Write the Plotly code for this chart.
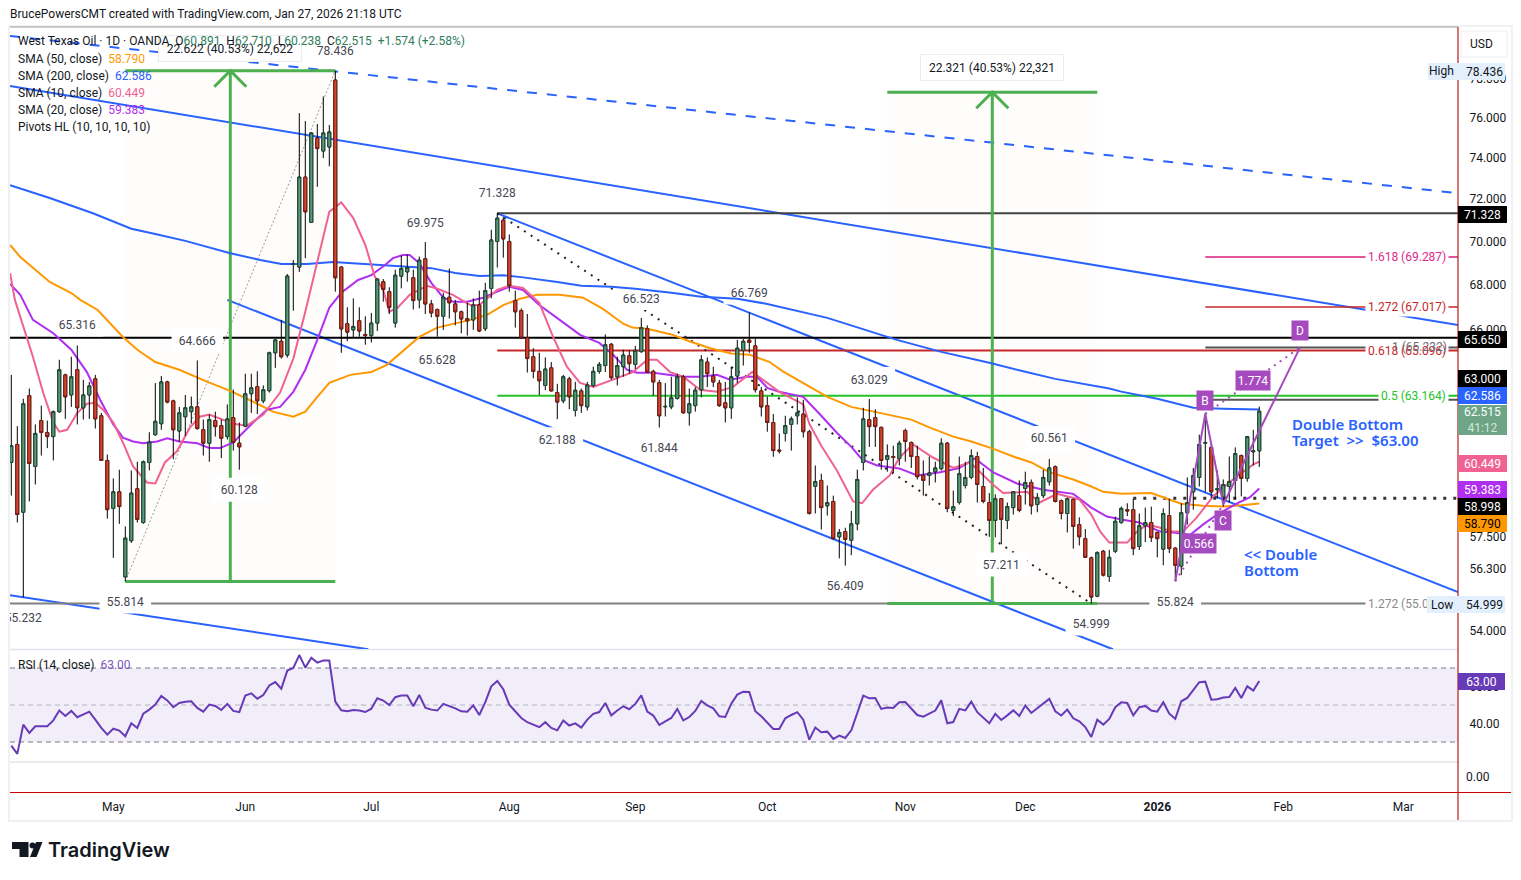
import math
import plotly.graph_objects as go

W, H = 1521, 880
FONT = "Roboto"
INK = "#131722"
BLUE = "#2962ff"
GREEN = "#4caf50"
ORANGE = "#ff9800"
PINK = "#f06292"
PURPLE = "#b02ef0"
PATTERN = "#a64bbf"

# Daily candles, oldest first
opens = [60.42,61.15,58.45,63.17,60.26,62.13,61.64,61.47,62.5,64.05,63.2,64.27,62.66,63.2,63.88,62.33,60.5,58.6,59.25,55.99,
57.35,59.37,58.05,60.42,61.55,62.0,63.75,62.95,61.7,62.29,62.5,62.7,61.75,61.2,62.13,61.92,61.47,62.25,61.2,61.9,
63.25,63.55,62.95,63.38,65.0,65.5,64.9,68.94,68.82,73.07,70.9,75.0,74.35,74.55,77.95,68.82,66.27,66.0,66.4,65.8,
65.75,66.3,68.15,67.7,66.3,68.4,68.6,68.33,67.33,69.2,67.15,66.9,66.6,67.45,67.15,66.8,66.5,66.44,67.1,66.05,
67.85,70.0,71.0,70.0,67.3,66.85,65.65,64.83,64.2,63.6,64.35,63.3,62.95,63.88,62.55,63.37,62.7,63.6,64.2,64.45,
65.37,63.97,64.4,64.87,64.5,65.05,66.05,64.2,63.72,62.7,62.7,63.05,63.97,62.45,62.75,63.42,64.6,64.0,63.7,62.87,
62.66,64.0,65.1,65.55,65.3,63.37,62.75,62.05,60.92,61.6,61.97,62.33,62.4,61.67,59.47,59.7,58.7,58.87,57.5,57.7,
57.37,58.0,60.42,62.17,62.25,61.85,60.54,60.66,60.58,61.72,61.23,60.66,59.9,59.9,60.05,60.17,61.2,58.52,58.83,59.5,
59.82,60.66,59.46,58.83,58.13,58.98,58.13,58.63,59.1,59.38,59.62,58.75,59.1,59.65,60.25,58.9,58.4,58.95,57.97,57.43,
56.7,55.27,56.95,56.0,56.95,58.05,58.55,58.55,57.13,57.93,58.05,57.67,57.03,58.32,57.07,56.39,58.43,59.25,59.82,61.2,
61.03,59.33,59.05,59.46,59.7,60.7,59.78,60.85,60.891]
highs = [64.05,61.9,63.04,63.47,61.97,62.75,62.13,62.55,64.7,64.1,64.83,65.316,63.84,63.75,64.05,62.45,60.74,59.78,60.13,57.9,
60.1,60.45,60.5,61.65,63.7,64.0,63.8,63.0,62.7,63.2,63.13,64.666,62.17,62.38,62.5,62.17,62.8,63.43,62.05,64.1,
64.1,64.2,63.6,65.05,65.6,66.44,68.5,69.14,76.25,75.85,75.3,75.7,77.1,75.65,78.436,68.85,67.0,67.4,67.0,66.6,
66.75,68.3,68.27,67.9,68.7,69.35,69.4,68.7,69.3,69.975,67.33,66.95,67.65,68.75,67.33,66.85,67.2,67.4,67.75,68.1,
70.55,71.328,71.15,70.33,67.75,66.95,66.7,65.2,65.0,64.8,64.6,63.67,64.05,63.97,63.75,63.47,63.75,64.4,64.6,65.8,
65.42,64.83,65.13,65.1,65.3,66.523,66.2,64.27,63.84,63.7,63.97,64.1,64.05,63.47,63.53,64.9,64.8,64.4,63.84,63.75,
64.4,65.56,65.6,66.769,65.6,63.53,63.13,62.4,61.6,62.33,62.3,63.1,63.0,61.75,60.3,59.97,59.5,59.1,57.8,57.85,
58.5,60.13,62.66,63.029,62.6,61.88,61.15,61.1,61.3,61.8,61.27,61.1,60.5,60.66,60.45,61.4,61.25,59.3,60.66,60.45,
60.95,60.85,60.2,59.2,59.15,59.0,58.83,59.28,59.7,60.05,59.74,59.2,60.13,60.561,60.3,58.95,59.03,58.98,58.25,57.8,
56.75,56.95,57.0,57.0,58.28,58.67,58.8,58.98,58.4,58.63,58.67,57.7,58.6,58.98,57.1,58.8,59.82,60.2,61.55,62.46,
61.23,60.1,59.74,60.66,61.03,60.74,61.5,61.75,62.71]
lows = [59.1,58.05,55.232,58.87,59.54,60.7,61.0,60.5,62.45,62.2,62.7,61.97,62.17,62.2,61.8,60.5,58.2,56.7,58.0,55.814,
57.27,58.05,58.0,60.1,61.5,61.75,62.85,60.55,61.27,61.5,62.0,61.75,60.7,60.45,61.47,60.6,61.35,60.9,60.128,61.85,
62.45,62.4,62.85,63.3,64.35,64.75,64.79,66.85,68.6,69.23,70.9,72.6,74.0,73.6,67.7,65.0,65.5,65.65,65.7,65.35,
65.45,65.95,67.25,66.7,66.1,67.85,68.15,66.9,66.95,66.7,66.55,65.7,66.0,66.5,66.2,65.85,65.75,66.0,65.9,65.95,
67.4,68.8,69.25,67.7,66.1,65.6,64.15,63.9,63.2,63.4,63.35,62.188,62.85,62.6,62.3,62.45,62.55,63.53,64.1,64.17,
63.85,63.6,63.97,64.1,64.3,65.0,64.15,63.17,61.844,62.3,62.6,63.0,62.43,61.92,62.5,63.1,63.53,63.53,62.7,62.05,
62.2,63.7,64.45,65.0,63.3,62.3,61.67,60.65,60.78,61.27,60.9,61.97,61.43,58.36,58.4,57.78,58.32,57.4,56.68,56.409,
56.8,57.75,60.1,61.05,61.05,60.13,60.05,60.0,60.3,60.45,60.2,59.74,59.1,59.5,59.62,60.1,58.45,58.3,58.75,59.38,
59.75,58.83,58.8,57.5,57.48,57.211,57.8,58.36,58.45,58.75,58.36,58.45,59.0,59.5,58.83,58.17,57.67,57.05,57.17,56.7,
54.999,55.23,56.0,55.8,56.88,58.0,58.3,56.8,57.0,57.3,57.3,56.72,56.42,56.88,55.824,56.05,57.97,58.55,59.46,59.25,
59.0,58.98,58.67,58.83,58.95,59.07,59.65,60.3,60.238]
closes = [61.1,58.36,62.83,60.38,61.6,61.64,61.47,62.5,64.27,63.12,63.97,62.66,63.2,63.58,62.2,60.5,58.55,59.25,58.67,57.45,
59.2,58.17,60.45,61.25,62.1,63.75,62.9,61.75,62.45,62.66,62.7,61.8,61.2,62.17,61.88,61.4,62.2,61.23,61.05,63.25,
63.5,62.95,63.42,65.0,65.56,64.83,68.41,68.95,73.07,71.4,75.25,74.47,75.25,75.3,68.33,66.04,65.9,66.15,65.95,65.75,
66.3,68.27,67.8,67.0,68.45,68.75,68.8,67.3,69.14,67.15,66.75,66.6,67.45,67.2,66.8,66.48,66.4,67.1,65.95,67.75,
70.07,71.1,70.12,67.97,66.8,65.65,64.75,64.2,63.8,64.3,63.37,62.9,63.97,63.12,63.4,62.75,63.62,64.2,64.5,65.35,
63.93,64.45,64.9,64.53,65.1,66.1,64.17,63.75,62.33,62.72,63.08,63.97,62.45,62.83,63.4,64.7,64.1,63.75,62.75,62.66,
63.97,65.2,65.5,65.45,63.42,62.7,62.05,60.9,60.88,61.92,62.2,62.45,61.67,58.4,59.66,58.63,58.83,57.43,57.67,57.4,
58.0,59.74,62.2,61.88,61.88,60.5,60.7,60.62,61.2,61.27,60.66,59.85,59.7,60.0,60.2,61.2,58.6,58.67,59.97,59.82,
60.7,59.54,58.87,58.13,58.98,58.17,58.67,59.25,58.52,59.62,58.7,59.03,59.82,60.2,58.87,58.4,58.98,57.9,57.5,56.72,
55.24,56.9,56.05,56.72,58.1,58.6,58.5,57.05,57.93,58.05,57.47,57.43,58.4,57.05,56.42,58.43,58.83,59.9,61.15,61.23,
59.25,59.37,59.54,59.66,60.78,59.78,61.47,60.89,62.515]

# Relative Strength Index, one value per candle
rsi_values = [28.06,23.56,39.4,34.9,38.5,38.7,38.5,41.7,47.0,44.1,46.8,43.4,45,46.4,42.1,37.6,34,37.2,36.2,33.1,
40.1,37.6,45.3,47.5,50.2,54.9,52.5,48.8,51.1,51.8,52,48.4,46.4,50.2,49.5,47.3,50.6,46.8,46.1,55.1,
56.3,53.4,55.4,60.6,62.4,58.8,68.6,70,77,70.2,75.6,72.9,74,74.1,51.8,47.1,46.6,47.3,47,46.2,
48,53.6,52.4,50,54.2,55.1,55.1,49.3,55.4,48.6,47.5,47,50.6,49.5,48.2,46.6,46.4,49.8,44.6,51.5,
60.1,63,58.5,50.2,46.4,43,40.7,39.4,38,40.7,37.6,36.3,41.6,38.9,40.1,37.8,42.1,45.2,46.2,51.1,
44.4,47,49.3,47.7,50.6,55.2,46.4,44.3,39.2,41.2,43,47.9,41.7,43.5,46.8,52.2,49.8,48.2,43.9,43.5,
50.7,55.6,57.2,57,46.6,43.9,40.7,37,37,42.8,44.6,46.1,42.1,31.3,37.8,35.3,35.6,31.7,33.5,32.2,
36.3,45.7,55.1,53.6,53.8,47.9,48.6,48.4,51.5,51.6,48,44.6,43.7,45.3,47,52.5,40.1,40.8,47.9,47.1,
51.8,46.1,43,40.1,45.2,41.9,44.4,47.1,44.1,49.7,45.7,48.4,51.1,53.3,46.6,44.3,47.5,42.8,41.2,38.1,
32.7,42.1,39.4,42.5,48.8,51.5,51.1,44.4,48.8,49.5,47,46.4,51.5,45.3,42.5,52,53.8,58.3,62.3,62.6,
52.9,53.1,54,54.3,59.2,53.8,60.1,57.8,63.0]

# Moving averages, read at their turning points as (bar, value)
sma50_bars = [-0.2,1.5,6.4,10,11.5,14.4,18.6,21,24,28,32.6,36.5,41,43.6,47,49,51,53,56.5,60,62.6,65,68,71,74.3,76.5,79.3,82,84.8,87.6,91.4,95.3,98.6,102,103.5,106,110,113,116.5,120,123,126.4,128.6,132.6,136,140,144,150,153,157,160,163.6,167,170,173,177,180,182,185,190,193,195,198.6,202,205,208]
sma50_vals = [69.84,69.28,68.14,67.64,67.33,66.88,65.69,65.13,64.6,64.27,63.76,63.37,62.83,62.5,62.29,62.5,63.12,63.71,64.05,64.17,64.48,65.0,65.69,66.1,66.3,66.44,66.66,67.1,67.38,67.56,67.56,67.43,66.93,66.27,66.1,66.05,65.8,65.5,65.2,64.97,64.92,64.6,64.2,63.62,63.12,62.7,62.5,62.17,61.85,61.47,61.27,60.98,60.66,60.42,60.03,59.74,59.46,59.25,59.17,59.2,58.95,58.78,58.7,58.67,58.72,58.79]
sma200_bars = [-0.2,6.4,13.6,20,24,29,36.5,41.5,45,49.3,53.6,61,67,70,74,78,82,85,91,95,100,104,110,115,121,126,136,147.6,155,163,169,174,183,185,191,197,202,208]
sma200_vals = [72.68,72.06,71.33,70.6,70.35,70.03,69.46,69.14,68.96,68.96,69.05,68.91,68.82,68.77,68.55,68.41,68.45,68.36,68.14,67.97,67.92,67.83,67.65,67.47,67.38,67.15,66.53,65.56,65.04,64.57,64.18,63.88,63.47,63.34,63.04,62.66,62.62,62.586]
sma10_bars = [-0.2,0.6,3.6,5.3,7,8,9.3,11,12.6,14,15.3,17,18.6,20.3,22.6,24,25.6,27.6,29.8,31.4,33,34.8,37,39.3,42,44.8,47,49,51,53,55,57,59,60.6,62,63,64.4,66.4,69.3,71,73.6,76.5,78,81,83,85.3,88,90.3,92.6,94.8,97,100.3,103.6,106,107.6,109.8,112,114.8,117.6,120.3,122.6,123.5,124.8,128,132,133,135,137.6,140.3,141.8,143.6,146.4,148,150.3,153.6,157,159.8,163.6,165.3,169.3,171.4,174.3,178,180,181.5,183,186,187.6,189.3,191.5,193.6,195.3,197.6,200.3,203.6,207,208]
sma10_vals = [68.54,67.33,64.83,63.3,62.05,61.67,61.75,62.45,62.83,62.87,62.58,62.05,61.23,60.26,59.62,59.58,60.42,60.87,61.85,62.29,62.38,62.2,62.0,61.92,62.38,63.3,64.75,66.8,69.05,71.4,71.85,71.1,69.84,68.37,67.78,66.8,66.98,67.56,67.97,67.83,67.56,67.1,67.1,67.78,67.97,67.87,67.2,65.69,64.4,63.71,63.54,63.84,64.17,64.7,64.7,64.17,63.97,63.42,63.33,63.54,63.97,64.17,63.93,63.33,62.8,62.0,61.1,60.1,58.87,58.8,59.33,59.9,60.62,61.15,60.62,60.2,60.42,59.54,59.2,59.25,58.83,59.17,58.95,58.36,57.7,57.28,57.28,57.7,57.97,57.85,57.7,57.7,58.25,59.07,59.74,60.34,60.449]
sma20_bars = [-0.2,1.5,3.6,7,10,12.6,14.8,17,18.6,20.3,22,24.3,26,28,31,33,34.8,37,40.3,42.6,44.8,47,49,51,53,55,57.8,60,62.3,63.6,65.3,66.4,68,70,72,73.6,76,78.6,81,83,85.3,88,91.4,94.8,98,100.3,102.6,104.3,107,109.3,112,114.8,117.6,119.8,122.6,124.3,126,128,132,134.8,137.6,140,141.8,144.3,148,151,154.8,158,160.6,163.6,167.6,172,177,180,182.6,185,188,191.5,193.6,196.5,198.6,201,204.3,206.4,208]
sma20_vals = [68.05,67.56,66.44,65.85,65.13,64.17,63.0,61.97,61.43,61.27,61.2,61.27,61.4,61.27,61.2,61.0,61.0,61.23,62.05,62.58,62.7,63.33,64.27,65.56,66.98,67.65,68.23,68.45,68.91,69.23,69.37,69.37,69.0,68.1,67.43,67.25,67.25,67.43,67.7,67.92,67.78,67.1,66.44,65.78,65.43,64.92,64.27,64.14,64.14,64.05,63.97,63.97,64.05,63.84,63.97,63.97,63.5,63.33,63.12,62.38,61.63,61.05,60.54,60.3,60.18,59.9,60.03,60.2,60.58,60.03,59.58,59.33,59.17,58.63,58.28,58.17,58.05,57.7,57.67,57.58,57.97,58.36,58.8,59.03,59.383]

# Time axis
month_bars = [17, 39, 60, 83, 104, 126, 149, 169, 191, 212, 232]
month_labels = ["May", "Jun", "Jul", "Aug", "Sep", "Oct", "Nov", "Dec", "<b>2026</b>", "Feb", "Mar"]

# Price axis
price_ticks = [78, 76, 74, 72, 70, 68, 66, 57.5, 56.3, 54]

# Pivot labels: (bar, value, offset above the pivot in pixels)
pivot_labels = [(11,65.316,21),(31,64.666,20),(54,78.436,20),(69,69.975,20),(81,71.328,21),(105,66.523,20),(123,66.769,20),(143,63.029,20),(173,60.561,21),
                (2,55.232,-20),(19,55.814,-20),(38,60.128,-20),(71,65.628,-21),(91,62.188,-20),(108,61.844,-20),(139,56.409,-20),(165,57.211,-20),(180,54.999,-20),(194,55.824,-20)]

# Drawn trend lines: (bar0, price0, bar1, price1)
LEFT_EDGE, RIGHT_EDGE = -0.2167, 241.12
solid_trends = [(LEFT_EDGE,77.64,RIGHT_EDGE,66.21),(81,71.328,RIGHT_EDGE,55.42),(36,67.33,183.6,53.35),(LEFT_EDGE,55.31,59.5,53.35)]
dashed_trend = (LEFT_EDGE,80.27,RIGHT_EDGE,72.29)

# Horizontal levels: (bar0, bar1, price, colour, width)
levels = [(LEFT_EDGE,RIGHT_EDGE,65.65,"#000000",2),(81,RIGHT_EDGE,71.328,"#444444",2),(LEFT_EDGE,RIGHT_EDGE,54.999,"#808080",2),
          (81,RIGHT_EDGE,65.096,"#c62828",2),(81,RIGHT_EDGE,63.164,"#22c32a",2),(199,RIGHT_EDGE,63.0,"#555555",2),
          (199,RIGHT_EDGE,65.232,"#555555",2),(199,RIGHT_EDGE,67.017,"#c62828",1.5),(199,RIGHT_EDGE,69.287,"#d81b7a",1.5)]
# Fibonacci captions: (text, price, colour)
fib_captions = [("1.618 (69.287)",69.287,"#e0278c"),("1.272 (67.017)",67.017,"#c62828"),("0.618 (65.096)",65.096,"#c62828"),
                ("0.5 (63.164)",63.164,"#22c32a"),("1.272 (55.013)",54.999,"#8a8a8a")]

# Measured moves: (first bar, last bar, low, high)
measures = [(19,54,55.814,78.436),(146,181,54.999,77.32)]

# Harmonic swing points
swing_bars = [194, 199, 202, 214.8]
swing_prices = [55.824, 62.4, 58.75, 65.232]

PRICE_LOW, PRICE_HIGH = 53.36, 80.7
PX_PER_LOG = (649 - 28) / math.log(PRICE_HIGH / PRICE_LOW)


def lg(p):
    return math.log10(p)


def paper_x(x):
    return x / W


def paper_y(y):
    return 1 - y / H


fig = go.Figure()


def line(xs, ys, color, width, dash="solid", axis="y"):
    fig.add_trace(go.Scatter(x=xs, y=ys, mode="lines", yaxis=axis, hoverinfo="skip", showlegend=False,
                             line=dict(color=color, width=width, dash=dash)))


# Faint backgrounds of the measured moves
for b0, b1, lo, hi in measures:
    fig.add_trace(go.Scatter(x=[b0, b1, b1, b0, b0], y=[lo, lo, hi, hi, lo], mode="lines", fill="toself",
                             fillcolor="#fefdfc", line=dict(width=0), hoverinfo="skip", showlegend=False))

for b0, p0, b1, p1 in solid_trends:
    line([b0, b1], [p0, p1], BLUE, 2)
line([dashed_trend[0], dashed_trend[2]], [dashed_trend[1], dashed_trend[3]], BLUE, 2, dash="10px,10px")

for b0, b1, p, color, width in levels:
    line([b0, b1], [p, p], color, width)

line([19, 54], [55.814, 78.436], "#9a9a9a", 1, dash="2px,2px")
line([81, 180], [71.328, 54.999], "#222222", 2, dash="2px,6px")
line([187, RIGHT_EDGE], [58.998, 58.998], "#333333", 3, dash="3px,7px")

for b0, b1, lo, hi in measures:
    mid = (b0 + b1) / 2
    arm = hi * math.exp(-16 / PX_PER_LOG)
    xs = [b0, b1, None, b0, b1, None, mid, mid, None, mid - 2.67, mid, mid + 2.67]
    ys = [hi, hi, None, lo, lo, None, lo, hi, None, arm, hi, arm]
    line(xs, ys, GREEN, 3)

# White plates behind the pivot captions interrupt the drawn lines but stay under the averages
label_prices = [v * math.exp(s / PX_PER_LOG) for _, v, s in pivot_labels]
plate_x, plate_y = [], []
for (bar, _, _), p in zip(pivot_labels, label_prices):
    plate_x += [bar - 4.3, bar + 4.3, None]
    plate_y += [p, p, None]
line(plate_x, plate_y, "#ffffff", 24)

line(sma200_bars, sma200_vals, BLUE, 2)
line(sma50_bars, sma50_vals, ORANGE, 2)
line(sma20_bars, sma20_vals, PURPLE, 2)
line(sma10_bars, sma10_vals, PINK, 2)

# Candles sit on an overlay axis so they cover the lines: wicks first, then bodies
fig.add_trace(go.Candlestick(x=list(range(len(closes))), open=opens, high=highs, low=lows, close=closes, yaxis="y3",
                             increasing=dict(line=dict(color="#000000", width=1), fillcolor="#000000"),
                             decreasing=dict(line=dict(color="#000000", width=1), fillcolor="#000000"),
                             hoverinfo="skip", showlegend=False))
fig.add_trace(go.Candlestick(x=list(range(len(closes))), open=opens, close=closes,
                             high=[max(o, c) for o, c in zip(opens, closes)],
                             low=[min(o, c) for o, c in zip(opens, closes)], yaxis="y3",
                             increasing=dict(line=dict(color="#1f4d38", width=1), fillcolor="#5b9a78"),
                             decreasing=dict(line=dict(color="#7a1f14", width=1), fillcolor="#d8452f"),
                             hoverinfo="skip", showlegend=False))

# Harmonic pattern lies above the candles
line(swing_bars, swing_prices, PATTERN, 2, axis="y4")
line([swing_bars[0], swing_bars[2], None, swing_bars[1], swing_bars[3]],
     [swing_prices[0], swing_prices[2], None, swing_prices[1], swing_prices[3]], PATTERN, 2, dash="2px,5px", axis="y4")

# Pivot captions, clipped by the pane at its left edge
caption_prices = [p * math.exp(-1.5 / PX_PER_LOG) for p in label_prices]
fig.add_trace(go.Scatter(x=[b for b, _, _ in pivot_labels], y=caption_prices, yaxis="y4", mode="text",
                         text=[f"{v:.3f}" for _, v, _ in pivot_labels], textposition="middle center",
                         textfont=dict(size=12, color="#434651", family=FONT), hoverinfo="skip", showlegend=False))

# RSI pane
line(list(range(len(rsi_values))), rsi_values, "#673ab7", 2, axis="y2")

price_range = [lg(PRICE_LOW), lg(PRICE_HIGH)]
fig.update_layout(
    width=W, height=H, margin=dict(l=0, r=0, t=0, b=0), autosize=False,
    paper_bgcolor="white", plot_bgcolor="white", showlegend=False,
    font=dict(family=FONT, size=12, color=INK),
    xaxis=dict(domain=[paper_x(10), paper_x(1458)], range=[LEFT_EDGE, RIGHT_EDGE], anchor="y2",
               tickmode="array", tickvals=month_bars, ticktext=month_labels, showgrid=False, zeroline=False,
               showline=False, ticks="outside", ticklen=3, tickcolor="rgba(0,0,0,0)",
               rangeslider=dict(visible=False), tickfont=dict(size=12, color=INK)),
    yaxis=dict(domain=[paper_y(649), paper_y(28)], type="log", range=price_range, side="right", anchor="x",
               tickmode="array", tickvals=price_ticks, ticktext=[f"{t:.3f}" for t in price_ticks], showgrid=False,
               zeroline=False, showline=False, ticks="outside", ticklen=8, tickcolor="rgba(0,0,0,0)"),
    yaxis2=dict(domain=[paper_y(793), paper_y(649)], range=[2.43, 80.27], side="right", anchor="x",
                tickmode="array", tickvals=[40, 60], ticktext=["40.00", "60.00"], showgrid=False, zeroline=False,
                showline=False, ticks="outside", ticklen=8, tickcolor="rgba(0,0,0,0)"),
    yaxis3=dict(overlaying="y", type="log", range=price_range, visible=False, side="right", anchor="x"),
    yaxis4=dict(overlaying="y", type="log", range=price_range, visible=False, side="right", anchor="x"),
)

# Panel furniture, in pixel positions on the page
shapes = []


def hline(x0, x1, y, color, width, dash="solid"):
    shapes.append(dict(type="line", xref="paper", yref="paper", x0=paper_x(x0), x1=paper_x(x1), y0=paper_y(y), y1=paper_y(y),
                       line=dict(color=color, width=width, dash=dash), layer="below"))


def vline(x, y0, y1, color, width):
    shapes.append(dict(type="line", xref="paper", yref="paper", x0=paper_x(x), x1=paper_x(x), y0=paper_y(y0), y1=paper_y(y1),
                       line=dict(color=color, width=width), layer="above"))


shapes.append(dict(type="rect", xref="paper", yref="paper", x0=paper_x(9), x1=paper_x(1512), y0=paper_y(821), y1=paper_y(26),
                   line=dict(color="#f0f1f3", width=2), layer="below"))
# RSI band between the 30 and 70 levels
shapes.append(dict(type="rect", xref="paper", yref="y2", x0=paper_x(10), x1=paper_x(1458), y0=30, y1=70,
                   fillcolor="#f1edf9", line=dict(width=0), layer="below"))
for level, color in ((70, "#787b86"), (50, "#b4b6bd"), (30, "#787b86")):
    shapes.append(dict(type="line", xref="paper", yref="y2", x0=paper_x(10), x1=paper_x(1458), y0=level, y1=level,
                       line=dict(color=color, width=1, dash="5px,4px"), layer="below"))
hline(10, 1458, 27, "#9a9a9a", 1.2)
hline(10, 1458, 649.5, "#e0e3eb", 1.5)
hline(10, 1458, 762, "#e0e3eb", 1.5)
hline(10, 1511, 792.5, "#cc0000", 1.2)
vline(1458, 27, 820, "#b71c1c", 1.2)
# USD button
shapes.append(dict(type="rect", xref="paper", yref="paper", x0=paper_x(1461), x1=paper_x(1507), y0=paper_y(57), y1=paper_y(31),
                   line=dict(color="#eeeeee", width=1), fillcolor="white", layer="above"))


# Brand mark
def path(points):
    return "M " + " L ".join(f"{paper_x(x):.5f},{paper_y(y):.5f}" for x, y in points) + " Z"


for pts in ([(12, 842), (28.5, 842), (28.5, 857), (19.5, 857), (19.5, 849), (12, 849)],
            [(30, 857), (36.5, 857), (42.5, 842), (36, 842)]):
    shapes.append(dict(type="path", xref="paper", yref="paper", path=path(pts), fillcolor="#131722", line=dict(width=0)))
shapes.append(dict(type="circle", xref="paper", yref="paper", x0=paper_x(29.5), x1=paper_x(35.5), y0=paper_y(848.5), y1=paper_y(842.5),
                   fillcolor="#131722", line=dict(width=0)))
fig.update_layout(shapes=shapes)

ann = []


def text_at(text, x, y, anchor="left", color=INK, size=12, family=FONT, weight="normal", **kw):
    nudge = -2 if anchor == "left" else 0
    ann.append(dict(text=text, xref="paper", yref="paper", x=paper_x(x + nudge), y=paper_y(y), xanchor=anchor, yanchor="middle",
                    showarrow=False, font=dict(size=size, color=color, family=family, weight=weight), align="left", **kw))


def badge(text, cx, cy, w, h, bg, fg="#ffffff", weight="normal", edge=None):
    ann.append(dict(text=text, xref="paper", yref="paper", x=paper_x(cx), y=paper_y(cy), xanchor="center", yanchor="middle",
                    width=w, height=h, bgcolor=bg, borderpad=0, borderwidth=1 if edge else 0, bordercolor=edge or bg,
                    showarrow=False, align="center", valign="middle", font=dict(size=12, color=fg, family=FONT, weight=weight)))


# Measure captions go first so the legend text reads over them
for label, cx, cy in (("22.622 (40.53%) 22,622", 230, 48), ("22.321 (40.53%) 22,321", 992, 67.5)):
    badge(label, cx, cy, 142, 25, "#ffffff", INK, edge="#ececec")

# Fibonacci captions
for label, price, color in fib_captions:
    ann.append(dict(text=label, x=239.6, y=lg(price), xref="x", yref="y", xanchor="right", showarrow=False,
                    bgcolor="#ffffff", borderpad=2, font=dict(size=12, color=color, family=FONT)))
ann.append(dict(text="1 (65.232)", x=239.6, y=lg(65.232), xref="x", yref="y", xanchor="right", showarrow=False,
                font=dict(size=12, color="#6b6e78", family=FONT)))

# Pattern tags
for label, bar, price, shift, w in (("B", 199, 62.4, 14, 16), ("C", 202, 58.75, -16, 16), ("D", 214.8, 65.232, 17, 16),
                                    ("1.774", 207, 63.8, 0, 34), ("0.566", 198, 57.25, 0, 34)):
    ann.append(dict(text=label, x=bar, y=lg(price), xref="x", yref="y", yshift=shift, showarrow=False, width=w, height=19,
                    bgcolor=PATTERN, font=dict(size=12, color="#ffffff", family=FONT), borderpad=0, valign="middle"))

# Commentary, one line per caption
NOTE = "Noto Sans"
text_at("Double Bottom", 1292, 424, color=BLUE, size=15, family=NOTE, weight=600)
text_at("Target\u00a0 &gt;&gt;\u00a0 $63.00", 1292, 440, color=BLUE, size=15, family=NOTE, weight=600)
text_at("&lt;&lt; Double", 1244, 554, color=BLUE, size=15, family=NOTE, weight=600)
text_at("Bottom", 1244, 570, color=BLUE, size=15, family=NOTE, weight=600)

# Header and legend
text_at("BrucePowersCMT created with TradingView.com, Jan 27, 2026 21:18 UTC", 10, 14)
VAL = "#2e7d5b"


def tint(s, color):
    return f'<span style="color:{color}">{s}</span>'


text_at("West Texas Oil · 1D · OANDA\u00a0 O" + tint("60.891", VAL) + "\u00a0 H" + tint("62.710", VAL) + "\u00a0 L" + tint("60.238", VAL)
        + "\u00a0 C" + tint("62.515", VAL) + "\u00a0 " + tint("+1.574 (+2.58%)", VAL), 18, 41.5)
for i, (name, val, color) in enumerate((("SMA (50, close)", "58.790", ORANGE), ("SMA (200, close)", "62.586", BLUE),
                                        ("SMA (10, close)", "60.449", PINK), ("SMA (20, close)", "59.383", PURPLE))):
    text_at(f"{name}\u00a0 " + tint(val, color), 18, 59 + 17 * i)
text_at("Pivots HL (10, 10, 10, 10)", 18, 127)
text_at("RSI (14, close)\u00a0 " + tint("63.00", "#7e57c2"), 18, 665)

# Right-hand scale tags
text_at("USD", 1481, 44, anchor="center")
badge("71.328", 1482, 214, 49, 17, "#000000")
badge("65.650", 1482, 339, 49, 17, "#000000")
badge("63.000", 1482, 378, 49, 17, "#000000")
badge("62.586", 1482, 395.5, 49, 17, BLUE)
badge("62.515<br><span style='color:#d5e6dc'>41:12</span>", 1482, 419.5, 49, 30, "#6ea587")
badge("60.449", 1482, 463, 49, 17, PINK)
badge("59.383", 1482, 489.5, 49, 17, PURPLE)
badge("58.998", 1482, 506.5, 49, 17, "#000000")
badge("58.790", 1482, 523.5, 49, 17, ORANGE, "#000000")
badge("63.00", 1481.5, 681.5, 47, 17, "#673ab7")
badge(" ", 1466.5, 71.5, 77, 17, "#e3effd")
text_at("High", 1441, 71, anchor="center")
text_at("78.436", 1484, 71.5, anchor="center")
badge(" ", 1466, 604.5, 78, 17, "#e3effd")
text_at("Low", 1442, 604.5, anchor="center")
text_at("54.999", 1484, 604.5, anchor="center")
text_at("0.00", 1466, 777)

# Brand name
text_at("TradingView", 48, 850, size=20, family="Inter", weight=600)

fig.update_layout(annotations=ann)
fig.write_html("out.html", config={"displayModeBar": False})
